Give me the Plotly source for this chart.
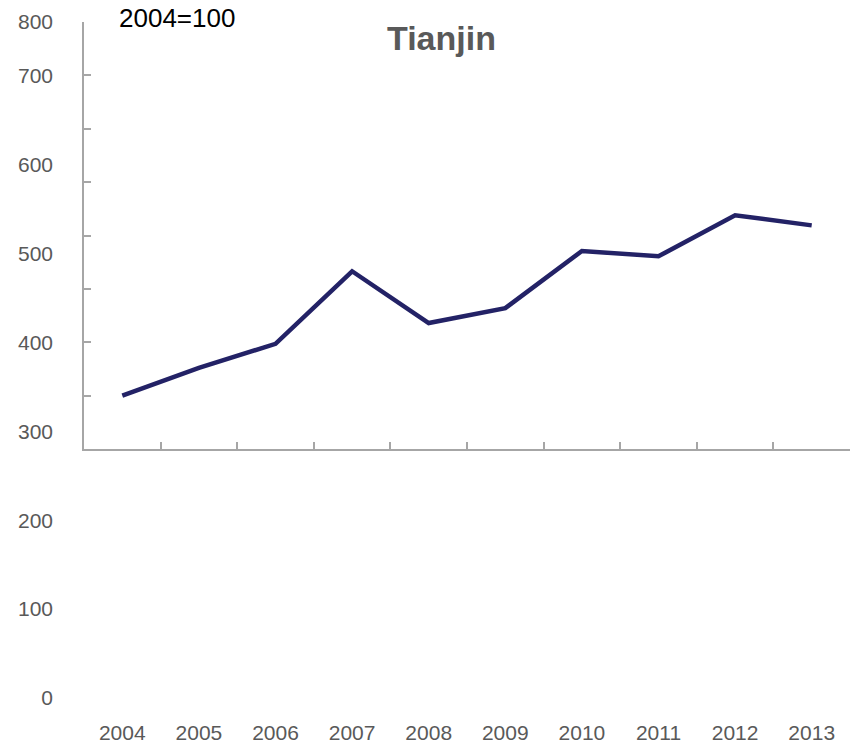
import plotly.graph_objects as go

years = ["2004", "2005", "2006", "2007", "2008", "2009", "2010", "2011", "2012", "2013"]
values = [100, 152, 197, 333, 236, 264, 371, 361, 438, 419]
ylabel_vals = [0, 100, 200, 300, 400, 500, 600, 700, 761]
ylabel_text = ["0", "100", "200", "300", "400", "500", "600", "700", "800"]

W, H = 854, 745
mt, mb, ml, mr = 20, 27, 84, 4
ph = H - mt - mb

def frac(py):
    return (H - mb - py) / ph

fig = go.Figure()
fig.add_trace(go.Scatter(x=years, y=values, mode="lines",
                         line=dict(color="#232266", width=4.5),
                         xaxis="x", yaxis="y", showlegend=False))
fig.add_trace(go.Scatter(x=years, y=[None]*len(years), mode="lines",
                         xaxis="x2", yaxis="y2", showlegend=False, hoverinfo="skip"))

gray = "#a6a6a6"
lab = "#595959"
fig.update_layout(
    width=W, height=H,
    margin=dict(l=ml, r=mr, t=mt, b=mb, autoexpand=False),
    paper_bgcolor="white", plot_bgcolor="rgba(0,0,0,0)",
    font=dict(family="Liberation Sans, Arial", color=lab, size=21),
    xaxis=dict(domain=[0, 1], anchor="y", type="category", tickson="boundaries",
               showticklabels=False, ticks="inside", ticklen=7, tickwidth=2,
               tickcolor=gray, showline=True, linecolor=gray, linewidth=2,
               showgrid=False, zeroline=False, range=[-0.5, 9.5], automargin=False),
    yaxis=dict(domain=[frac(449), frac(22)], anchor="x", range=[0, 800],
               tickvals=[0, 100, 200, 300, 400, 500, 600, 700, 800],
               showticklabels=False, ticks="inside", ticklen=7, tickwidth=2,
               tickcolor=gray, showline=True, linecolor=gray, linewidth=2,
               showgrid=False, zeroline=False, automargin=False),
    xaxis2=dict(domain=[0, 1], anchor="free", position=0,
                type="category", range=[-0.5, 9.5], showline=False, ticks="",
                showgrid=False, zeroline=False, automargin=False,
                tickfont=dict(size=21, color=lab)),
    yaxis2=dict(domain=[frac(698), 1], anchor="free", position=0,
                range=[0, (698 - mt) / 0.89 + 1], tickvals=ylabel_vals, ticktext=ylabel_text,
                showline=False, ticks="", showgrid=False, zeroline=False, automargin=False,
                ticklabelstandoff=31, tickfont=dict(size=21, color=lab)),
    annotations=[
        dict(text="<b>Tianjin</b>", x=(441 - ml) / (W - ml - mr), y=frac(38),
             xref="paper", yref="paper", xanchor="center", yanchor="middle",
             showarrow=False, font=dict(size=34, color=lab)),
        dict(text="2004=100", x=(117 - ml) / (W - ml - mr), y=frac(18),
             xref="paper", yref="paper", xanchor="left", yanchor="middle",
             showarrow=False, font=dict(size=26, color="black")),
    ],
)
fig.write_html("out.html", config={"displayModeBar": False},
               post_script="document.body.style.margin='0';document.body.style.overflow='hidden';")
